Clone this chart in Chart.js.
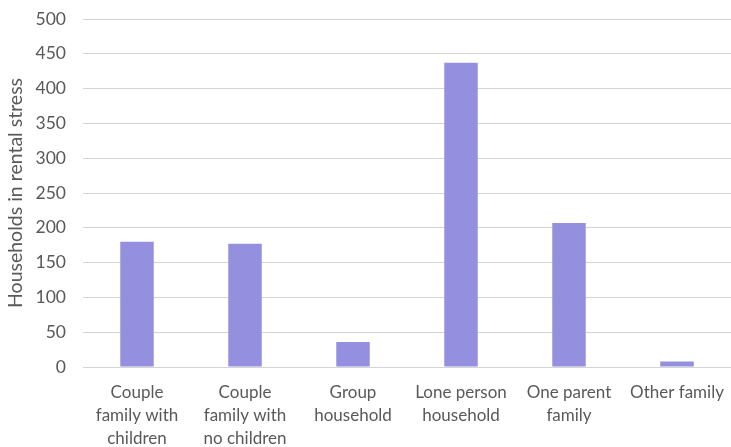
<!DOCTYPE html>
<html>
<head>
<meta charset="utf-8">
<script src="https://cdn.jsdelivr.net/npm/chart.js@4"></script>
<style>
  html, body { margin: 0; padding: 0; background: #fff; }
  #wrap { width: 731px; height: 447px; }
</style>
</head>
<body>
<div id="wrap"><canvas id="chart"></canvas></div>
<script>
// household types
var categories = [
  ['Couple', 'family with', 'children'],
  ['Couple', 'family with', 'no children'],
  ['Group', 'household'],
  ['Lone person', 'household'],
  ['One parent', 'family'],
  ['Other family']
];
var stress = [180, 177, 36, 437, 207, 8];
var yTitle = 'Households in rental stress';

var ctx = document.getElementById('chart').getContext('2d');
var chart = new Chart(ctx, {
  type: 'bar',
  data: {
    labels: categories,
    datasets: [{
      label: yTitle,
      data: stress,
      backgroundColor: '#958fe0',
      categoryPercentage: 1,
      barPercentage: 0.31
    }]
  },
  options: {
    responsive: true,
    maintainAspectRatio: false,
    animation: false,
    layout: { padding: { top: 19, right: 0, left: 4, bottom: 0 } },
    plugins: {
      legend: { display: false },
      tooltip: { enabled: false }
    },
    scales: {
      x: {
        afterFit: function(scale) { scale.height = 80; },
        grid: { display: false },
        border: { color: '#d4d4d4' },
        ticks: {
          color: '#595959',
          font: { family: 'Lato', size: 17, lineHeight: 1.35 },
          padding: 6,
          maxRotation: 0,
          autoSkip: false
        }
      },
      y: {
        min: 0,
        max: 500,
        afterFit: function(scale) {
          scale.width = 79;
          scale.paddingTop = 0;
          scale.paddingBottom = 0;
        },
        ticks: {
          stepSize: 50,
          color: '#595959',
          font: { family: 'Lato', size: 17.5 },
          padding: 17
        },
        grid: { color: '#d4d4d4', drawTicks: false },
        border: { display: false },
        title: {
          display: true,
          text: yTitle,
          color: '#595959',
          font: { family: 'Lato', size: 19.5 },
          padding: { top: 0, bottom: 0 }
        }
      }
    }
  }
});
</script>
</body>
</html>
